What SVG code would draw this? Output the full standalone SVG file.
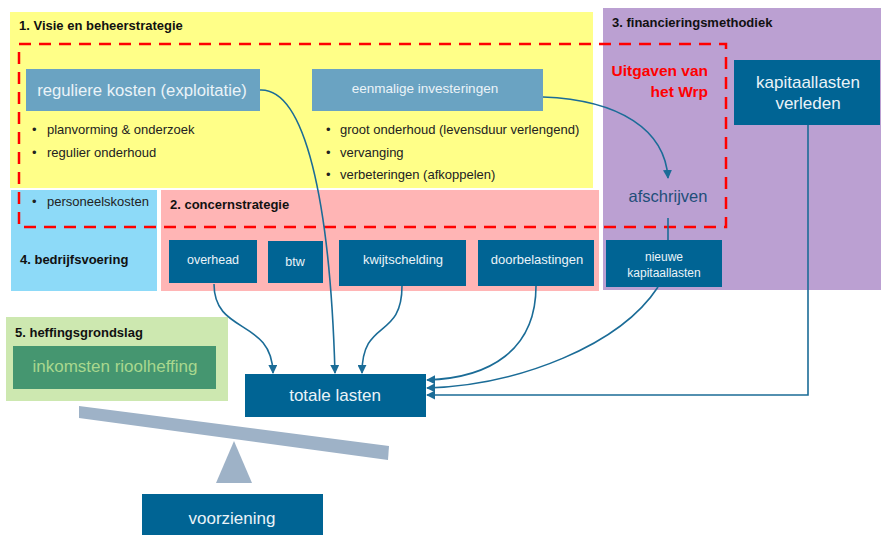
<svg xmlns="http://www.w3.org/2000/svg" width="881" height="535" viewBox="0 0 881 535">
<defs>
<style>
text{font-family:"Liberation Sans",Arial,sans-serif}
.hdr{font-size:13px;font-weight:bold;fill:#111}
.bul{font-size:13px;fill:#222}
.lt{fill:#6AA3C2}
.dk{fill:#006494}
.wt{fill:#EAF3F8;text-anchor:middle}
.con{fill:none;stroke:#1B6C97;stroke-width:1.6}
</style>
<marker id="ah" viewBox="0 0 10 10" refX="9" refY="5" markerWidth="9" markerHeight="9" markerUnits="userSpaceOnUse" orient="auto">
<path d="M0,0 L10,5 L0,10 z" fill="#1B6C97"/>
</marker>
</defs>
<rect width="881" height="535" fill="#fff"/>
<g id="regions">
<rect x="10" y="12" width="583" height="176" fill="#FFFF88"/>
<rect x="603" y="8" width="278" height="282" fill="#BBA0D2"/>
<rect x="11" y="190" width="146" height="101" fill="#8DDAF8"/>
<rect x="161" y="190" width="438" height="101" fill="#FFB5B5"/>
<rect x="6" y="317" width="222" height="84" fill="#CDE8B0"/>
<text class="hdr" x="19" y="30">1. Visie en beheerstrategie</text>
<text class="hdr" x="612" y="27">3. financieringsmethodiek</text>
<text class="hdr" x="170" y="209">2. concernstrategie</text>
<text class="hdr" x="20" y="264">4. bedrijfsvoering</text>
<text class="hdr" x="15" y="337">5. heffingsgrondslag</text>
</g>
<g id="wrp">
<rect x="19" y="44" width="707" height="183" fill="none" stroke="#FF0000" stroke-width="2.5" stroke-dasharray="12,8"/>
<text x="708" y="76" font-size="15.5" font-weight="bold" fill="#FF0000" text-anchor="end">Uitgaven van</text>
<text x="708" y="97" font-size="15.5" font-weight="bold" fill="#FF0000" text-anchor="end">het Wrp</text>
</g>
<g id="reguliere">
<rect class="lt" x="26" y="69" width="234" height="42"/>
<text class="wt" x="142" y="96" font-size="16.7">reguliere kosten (exploitatie)</text>
</g>
<g id="eenmalige">
<rect class="lt" x="312" y="69" width="231" height="42"/>
<text class="wt" x="425" y="93" font-size="13.5">eenmalige  investeringen</text>
</g>
<g id="bullets">
<text class="bul" x="32" y="134">•</text><text class="bul" x="47" y="134">planvorming &amp; onderzoek</text>
<text class="bul" x="32" y="157">•</text><text class="bul" x="47" y="157">regulier onderhoud</text>
<text class="bul" x="32" y="206">•</text><text class="bul" x="47" y="206">personeelskosten</text>
<text class="bul" x="326" y="134">•</text><text class="bul" x="340" y="134">groot onderhoud (levensduur verlengend)</text>
<text class="bul" x="326" y="157">•</text><text class="bul" x="340" y="157">vervanging</text>
<text class="bul" x="326" y="179">•</text><text class="bul" x="340" y="179">verbeteringen (afkoppelen)</text>
</g>
<g id="afschrijven">
<text x="668" y="202" font-size="16.5" fill="#1F4E79" text-anchor="middle">afschrijven</text>
</g>
<g id="kapitaallasten-verleden">
<rect class="dk" x="734" y="60" width="146" height="65"/>
<text class="wt" x="808" y="88" font-size="17">kapitaallasten</text>
<text class="wt" x="808" y="109" font-size="17">verleden</text>
</g>
<g id="nieuwe-kapitaallasten">
<rect class="dk" x="606" y="240" width="116" height="47"/>
<text class="wt" x="664" y="261" font-size="12">nieuwe</text>
<text class="wt" x="664" y="277" font-size="12">kapitaallasten</text>
</g>
<g id="overhead">
<rect class="dk" x="169" y="240" width="88" height="43"/>
<text class="wt" x="213" y="264" font-size="12.5">overhead</text>
</g>
<g id="btw">
<rect class="dk" x="268" y="241" width="55" height="42"/>
<text class="wt" x="295" y="266" font-size="12.5">btw</text>
</g>
<g id="kwijtschelding">
<rect class="dk" x="339" y="240" width="127" height="46"/>
<text class="wt" x="403" y="264" font-size="13">kwijtschelding</text>
</g>
<g id="doorbelastingen">
<rect class="dk" x="478" y="240" width="116" height="46"/>
<text class="wt" x="537" y="264" font-size="13">doorbelastingen</text>
</g>
<g id="totale-lasten">
<rect class="dk" x="245" y="374" width="181" height="43"/>
<text class="wt" x="335" y="401" font-size="17">totale lasten</text>
</g>
<g id="inkomsten">
<rect x="13" y="346" width="203" height="43" fill="#459670"/>
<text x="115" y="372" font-size="17" fill="#A9D88E" text-anchor="middle">inkomsten rioolheffing</text>
</g>
<g id="seesaw">
<polygon points="79,406 389,446 388,460 79,418" fill="#9EB2C7"/>
<polygon points="234,441 252,483 216,483" fill="#9EB2C7"/>
</g>
<g id="voorziening">
<rect class="dk" x="142" y="494" width="181" height="41"/>
<text class="wt" x="232" y="524" font-size="17">voorziening</text>
</g>
<g id="connectors">
<path class="con" d="M260,90 C305,88 330,200 335,373" marker-end="url(#ah)"/>
<path class="con" d="M543,97 C620,100 665,130 668,178" marker-end="url(#ah)"/>
<path class="con" d="M668,218 L668,240"/>
<path class="con" d="M214,284 C214,335 272,318 273,373" marker-end="url(#ah)"/>
<path class="con" d="M402,286 C402,340 362,318 362,373" marker-end="url(#ah)"/>
<path class="con" d="M536,286 C536,350 490,378 427,380" marker-end="url(#ah)"/>
<path class="con" d="M658,287 C620,345 520,385 427,388" marker-end="url(#ah)"/>
<path class="con" d="M808,125 L808,395 L427,395" marker-end="url(#ah)"/>
</g>
</svg>
